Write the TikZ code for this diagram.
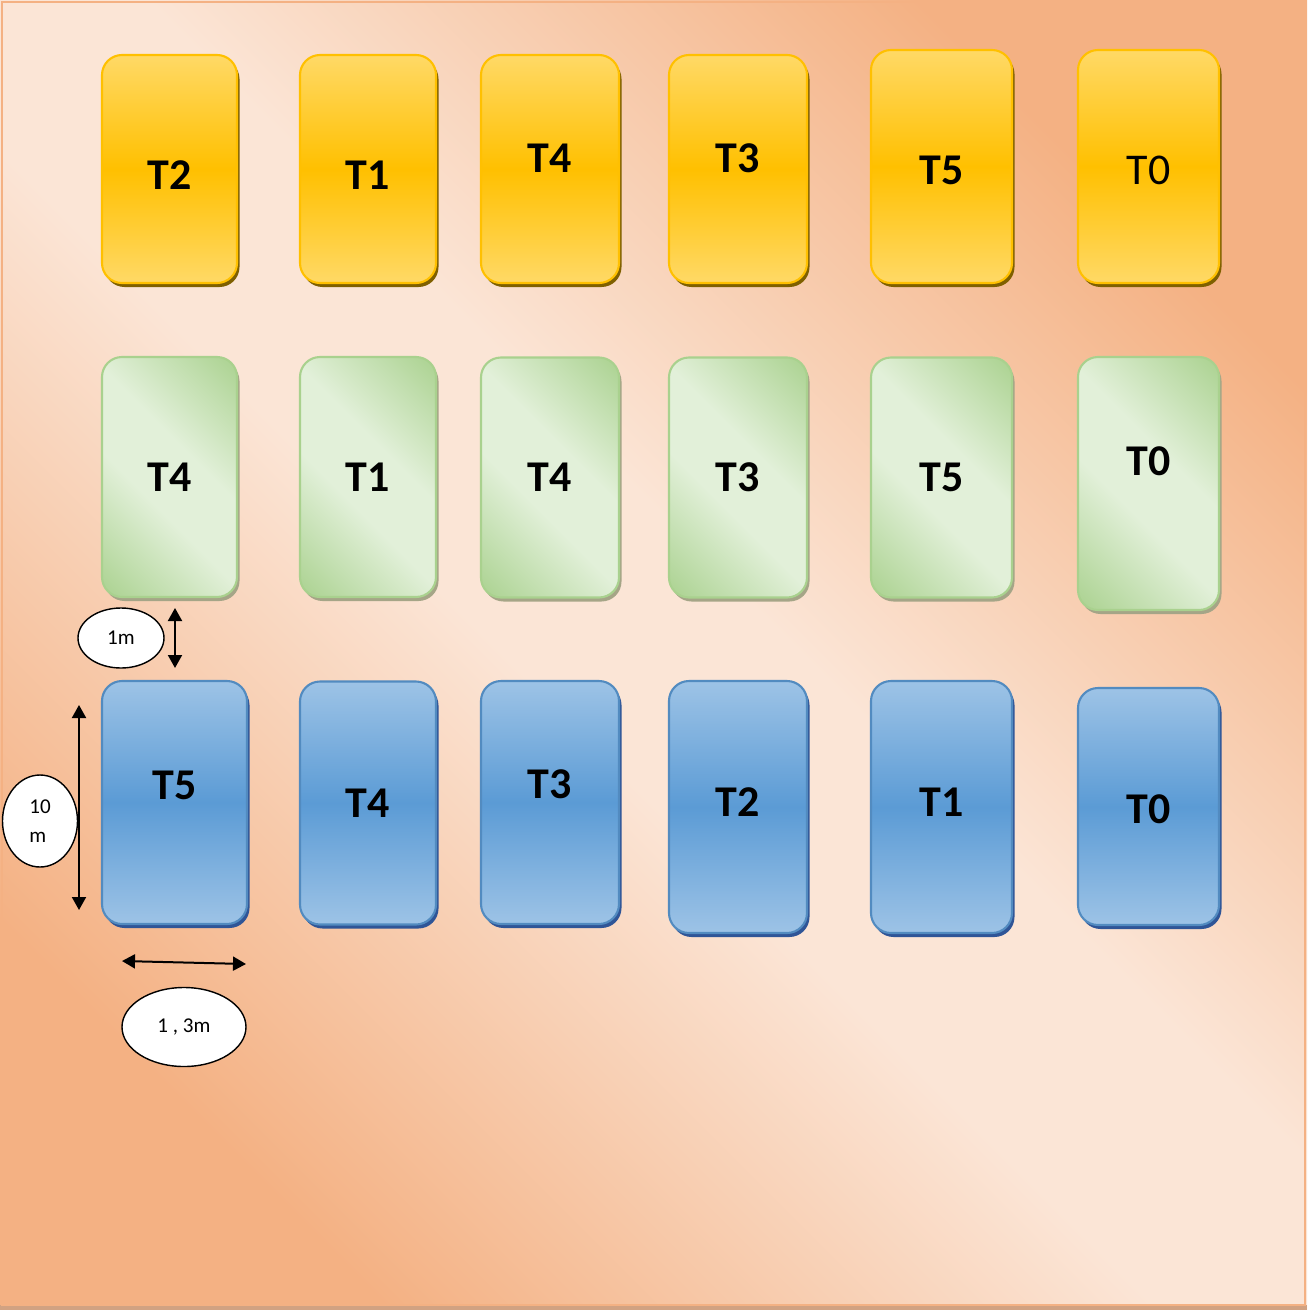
\documentclass[tikz,border=0pt]{standalone}
\usepackage{fontspec}
\setmainfont{Carlito}
\usetikzlibrary{arrows.meta,shapes.geometric,shadows}

\definecolor{bglight}{HTML}{FBE5D6}
\definecolor{bgdark}{HTML}{F4B183}
\definecolor{yltop}{HTML}{FFD966}
\definecolor{ylmid}{HTML}{FFC000}
\definecolor{ylshd}{HTML}{7F6000}
\definecolor{grdark}{HTML}{A9D18E}
\definecolor{grlight}{HTML}{E2F0D9}
\definecolor{grshd}{RGB}{165,165,135}
\definecolor{bltop}{HTML}{9DC3E6}
\definecolor{blmid}{HTML}{5B9BD5}
\definecolor{blshd}{HTML}{2F5597}

\pgfdeclareverticalshading{bgshade}{100bp}{color(0bp)=(bgdark); color(25bp)=(bgdark);
  color(46bp)=(bglight); color(54bp)=(bglight); color(75bp)=(bgdark); color(100bp)=(bgdark)}
\pgfdeclareverticalshading{grshade}{100bp}{color(0bp)=(grdark); color(14bp)=(grdark);
  color(42bp)=(grlight); color(58bp)=(grlight); color(86bp)=(grdark); color(100bp)=(grdark)}

\begin{document}
\begin{tikzpicture}[
  every node/.style={font=\fontsize{25}{30}\selectfont\bfseries},
  plot/.style={rectangle, rounded corners=0.4cm, line width=1.2pt,
    inner sep=0pt, minimum width=2.74cm, minimum height=4.56cm},
  yellowbox/.style={plot, draw=ylmid, top color=yltop, bottom color=yltop,
    middle color=ylmid,
    general shadow={fill=ylshd, shadow xshift=0.05cm, shadow yshift=-0.08cm}},
  greenbox/.style={plot, draw=grdark, shading=grshade, shading angle=-45,
    minimum height=4.80cm,
    general shadow={fill=grshd, shadow xshift=0.05cm, shadow yshift=-0.08cm}},
  bluebox/.style={plot, draw=blmid!90!black, top color=bltop, bottom color=bltop,
    middle color=blmid, minimum height=4.86cm,
    general shadow={fill=blshd, shadow xshift=0.05cm, shadow yshift=-0.08cm}},
  measure/.style={ellipse, draw, fill=white, line width=0.8pt, inner sep=0pt,
    font=\fontsize{12}{16.5}\selectfont},
  dimarrow/.style={{Triangle[length=0.26cm,width=0.28cm]}-{Triangle[length=0.26cm,width=0.28cm]},
    line width=0.04cm},
]
\useasboundingbox (0,0) rectangle (26.14,-26.2);

% Background
\shade[shading=bgshade, shading angle=-45] (0,0) rectangle (26.14,-26.2);
\fill[bgdark!70!gray] (0,-26.1) rectangle (26.14,-26.2);
\draw[bgdark, line width=1.5pt] (0.04,-0.04) rectangle (26.1,-26.1);

% Top row
\node[yellowbox, minimum width=2.70cm] (Y1) at (3.39,-3.38) [label={[yshift=-0.12cm]center:T2}] {};
\node[yellowbox, minimum width=2.72cm] (Y2) at (7.36,-3.38) [label={[yshift=-0.12cm]center:T1}] {};
\node[yellowbox, minimum width=2.76cm] (Y3) at (11.00,-3.38) [label={[yshift=0.22cm]center:T4}] {};
\node[yellowbox, minimum width=2.76cm] (Y4) at (14.76,-3.38) [label={[yshift=0.22cm]center:T3}] {};
\node[yellowbox, minimum width=2.82cm, minimum height=4.66cm] (Y5) at (18.83,-3.33) [label={[yshift=-0.07cm]center:T5}] {};
\node[yellowbox, minimum width=2.82cm, minimum height=4.66cm] (Y6) at (22.97,-3.33)
  [label={[yshift=-0.07cm, font=\fontsize{25}{30}\selectfont\mdseries]center:T0}] {};

% Middle row
\node[greenbox, minimum width=2.70cm] (G1) at (3.39,-9.54) [label=center:T4] {};
\node[greenbox, minimum width=2.72cm] (G2) at (7.36,-9.54) [label=center:T1] {};
\node[greenbox, minimum width=2.76cm] (G3) at (11.00,-9.55) [label=center:T4] {};
\node[greenbox, minimum width=2.76cm] (G4) at (14.76,-9.55) [label=center:T3] {};
\node[greenbox, minimum width=2.82cm] (G5) at (18.83,-9.55) [label=center:T5] {};
\node[greenbox, minimum width=2.82cm, minimum height=5.06cm] (G6) at (22.97,-9.67) [label={[yshift=0.45cm]center:T0}] {};

% Bottom row
\node[bluebox, minimum width=2.90cm] (B1) at (3.49,-16.05) [label={[yshift=0.35cm]center:T5}] {};
\node[bluebox, minimum width=2.72cm] (B2) at (7.36,-16.06) [label=center:T4] {};
\node[bluebox, minimum width=2.76cm] (B3) at (11.00,-16.05) [label={[yshift=0.37cm]center:T3}] {};
\node[bluebox, minimum width=2.76cm, minimum height=5.04cm] (B4) at (14.76,-16.14) [label={[yshift=0.10cm]center:T2}] {};
\node[bluebox, minimum width=2.82cm, minimum height=5.04cm] (B5) at (18.83,-16.14) [label={[yshift=0.10cm]center:T1}] {};
\node[bluebox, minimum width=2.82cm, minimum height=4.74cm] (B6) at (22.97,-16.13) [label={[yshift=-0.05cm]center:T0}] {};

% Dimensions
\node[measure, minimum width=1.72cm, minimum height=1.20cm] (gap) at (2.42,-12.76) {1m};
\node[measure, minimum width=1.50cm, minimum height=1.84cm, align=left] (len) at (0.80,-16.42) {10\\m};
\node[measure, minimum width=2.48cm, minimum height=1.58cm] (wid) at (3.68,-20.54) {1 , 3m};

\coordinate (gapA) at (3.50,-12.16);
\coordinate (gapB) at (3.50,-13.36);
\coordinate (lenA) at (1.58,-14.10);
\coordinate (lenB) at (1.58,-18.20);
\coordinate (widA) at (2.44,-19.22);
\coordinate (widB) at (4.92,-19.28);

\draw[dimarrow] (gapA) -- (gapB);
\draw[dimarrow] (lenA) -- (lenB);
\draw[dimarrow] (widA) -- (widB);

\end{tikzpicture}
\end{document}
